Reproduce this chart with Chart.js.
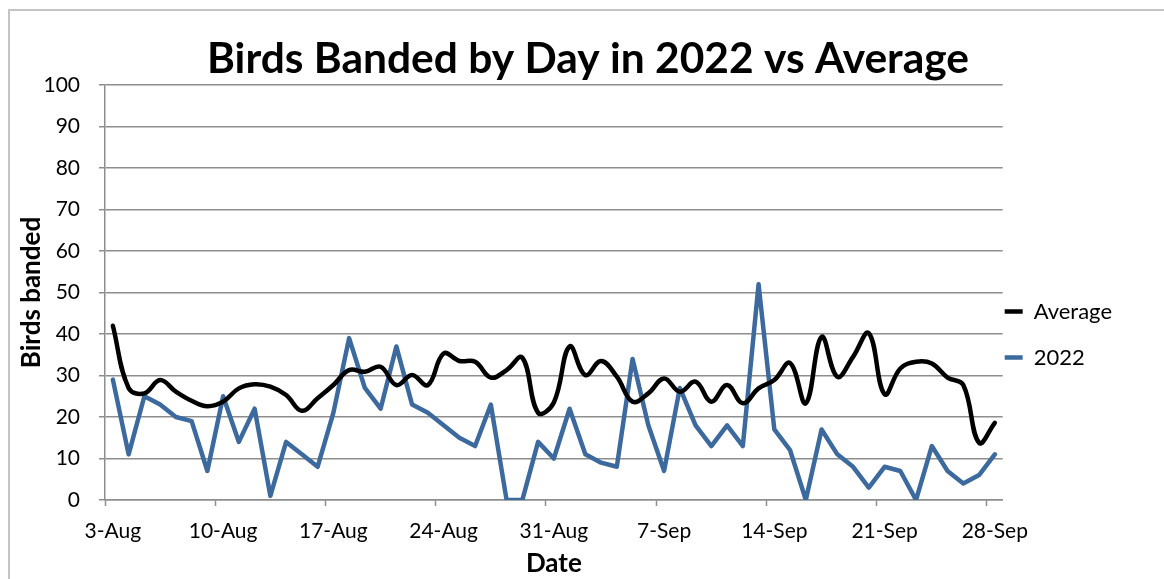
<!DOCTYPE html>
<html>
<head>
<meta charset="utf-8">
<script src="https://cdn.jsdelivr.net/npm/chart.js@4.4.1/dist/chart.umd.min.js"></script>
<style>
  html, body { margin: 0; padding: 0; background: #ffffff; overflow: hidden; }
  #wrap { position: relative; width: 1164px; height: 579px; }
  #frame { position: absolute; left: 8px; top: 9px; right: -10px; bottom: -10px;
           border: 2px solid #c4c4c4; box-sizing: border-box; }
  canvas { position: absolute; left: 0; top: 0; }
</style>
</head>
<body>
<div id="wrap">
  <div id="frame"></div>
  <canvas id="chart" width="1164" height="579"></canvas>
</div>
<script>
// Daily banding dates, 3 Aug to 28 Sep
const days = [
  '3-Aug','4-Aug','5-Aug','6-Aug','7-Aug','8-Aug','9-Aug','10-Aug','11-Aug','12-Aug',
  '13-Aug','14-Aug','15-Aug','16-Aug','17-Aug','18-Aug','19-Aug','20-Aug','21-Aug','22-Aug',
  '23-Aug','24-Aug','25-Aug','26-Aug','27-Aug','28-Aug','29-Aug','30-Aug','31-Aug',
  '1-Sep','2-Sep','3-Sep','4-Sep','5-Sep','6-Sep','7-Sep','8-Sep','9-Sep','10-Sep',
  '11-Sep','12-Sep','13-Sep','14-Sep','15-Sep','16-Sep','17-Sep','18-Sep','19-Sep','20-Sep',
  '21-Sep','22-Sep','23-Sep','24-Sep','25-Sep','26-Sep','27-Sep','28-Sep'
];

// Long-term average birds banded per day
const averageBirds = [
  42, 27, 25.7, 28.9, 26.1, 23.9, 22.6, 23.7, 26.9, 27.9,
  27.3, 25.3, 21.5, 24.5, 27.7, 31.3, 30.9, 32.1, 27.7, 30.1,
  27.7, 35.3, 33.5, 33.3, 29.5, 31.3, 34.3, 21, 23.5,
  37, 30.1, 33.5, 29.7, 23.7, 25.7, 29.3, 26.1, 28.5, 23.7,
  27.7, 23.3, 26.9, 28.9, 33, 23.3, 39.3, 29.7, 34.5, 40.2,
  25.5, 31.7, 33.3, 32.9, 29.5, 27.7, 13.8, 18.6
];

// Birds banded per day in 2022
const birds2022 = [
  29, 11, 25, 23, 20, 19, 7, 25, 14, 22,
  1, 14, 11, 8, 21, 39, 27, 22, 37, 23,
  21, 18, 15, 13, 23, 0, 0, 14, 10,
  22, 11, 9, 8, 34, 18, 7, 27, 18, 13,
  18, 13, 52, 17, 12, 0, 17, 11, 8, 3,
  8, 7, 0, 13, 7, 4, 6, 11
];

// Y axis range and step
const yMin = 0;
const yMax = 100;
const yStep = 10;
// A date label is shown every week
const labelEvery = 7;

const FONT = 'Lato, "Open Sans", "Liberation Sans", sans-serif';
const GRID = '#8e8e8e';

// Places the legend just right of the plot, a little below centre,
// and nudges the title block slightly to the right
const layoutTweaks = {
  id: 'layoutTweaks',
  afterLayout(chart) {
    const lg = chart.legend;
    if (lg) {
      const dy = 40;
      const dx = chart.chartArea.right + 2 - (lg.left + lg.options.labels.padding);
      lg.top += dy; lg.bottom += dy;
      lg.left += dx; lg.right += dx;
    }
    const tb = chart.titleBlock;
    if (tb) {
      tb.left += 11; tb.right += 11;
    }
  }
};

new Chart(document.getElementById('chart'), {
  type: 'line',
  data: {
    labels: days,
    datasets: [
      {
        label: 'Average',
        data: averageBirds,
        borderColor: '#000000',
        backgroundColor: '#000000',
        borderWidth: 4.5,
        borderJoinStyle: 'round',
        borderCapStyle: 'round',
        pointRadius: 0,
        tension: 0.4
      },
      {
        label: '2022',
        data: birds2022,
        borderColor: '#3c6a9e',
        backgroundColor: '#3c6a9e',
        borderWidth: 4.5,
        borderJoinStyle: 'round',
        borderCapStyle: 'round',
        pointRadius: 0,
        tension: 0
      }
    ]
  },
  options: {
    responsive: false,
    animation: false,
    layout: { padding: { left: 10, top: 10, right: 20, bottom: 0 } },
    plugins: {
      title: {
        display: true,
        text: 'Birds Banded by Day in 2022 vs Average',
        color: '#000000',
        font: { family: FONT, size: 42.5, weight: 'bold' },
        padding: { top: 24, bottom: 0 }
      },
      legend: {
        position: 'right',
        labels: {
          color: '#000000',
          font: { family: FONT, size: 22 },
          usePointStyle: true,
          pointStyle: 'line',
          pointStyleWidth: 18,
          padding: 24
        }
      },
      tooltip: { enabled: false }
    },
    scales: {
      x: {
        type: 'category',
        offset: true,
        afterFit(scale) { scale.height = 79; },
        border: { display: true, color: GRID, width: 1.5 },
        grid: {
          offset: true,
          drawOnChartArea: false,
          drawTicks: true,
          tickLength: 6,
          tickWidth: 1.5,
          tickColor: (ctx) => (ctx.index !== undefined && ctx.index % labelEvery === 0) ? GRID : 'rgba(0,0,0,0)'
        },
        ticks: {
          autoSkip: false,
          maxRotation: 0,
          minRotation: 0,
          padding: 13,
          color: '#000000',
          font: { family: FONT, size: 21 },
          callback(value, index) { return index % labelEvery === 0 ? days[index] : ''; }
        },
        title: {
          display: true,
          text: 'Date',
          color: '#000000',
          font: { family: FONT, size: 26, weight: 'bold' },
          padding: { top: 0, bottom: 0 }
        }
      },
      y: {
        min: yMin,
        max: yMax,
        afterFit(scale) { scale.width = 95; },
        border: { display: true, color: GRID, width: 1.5 },
        grid: {
          color: GRID,
          lineWidth: 1.5,
          drawTicks: true,
          tickLength: 6
        },
        ticks: {
          stepSize: yStep,
          padding: 19,
          color: '#000000',
          font: { family: FONT, size: 21 }
        },
        title: {
          display: true,
          text: 'Birds banded',
          color: '#000000',
          font: { family: FONT, size: 26, weight: 'bold' },
          padding: { top: 6, bottom: 0 }
        }
      }
    }
  },
  plugins: [layoutTweaks]
});
</script>
</body>
</html>
